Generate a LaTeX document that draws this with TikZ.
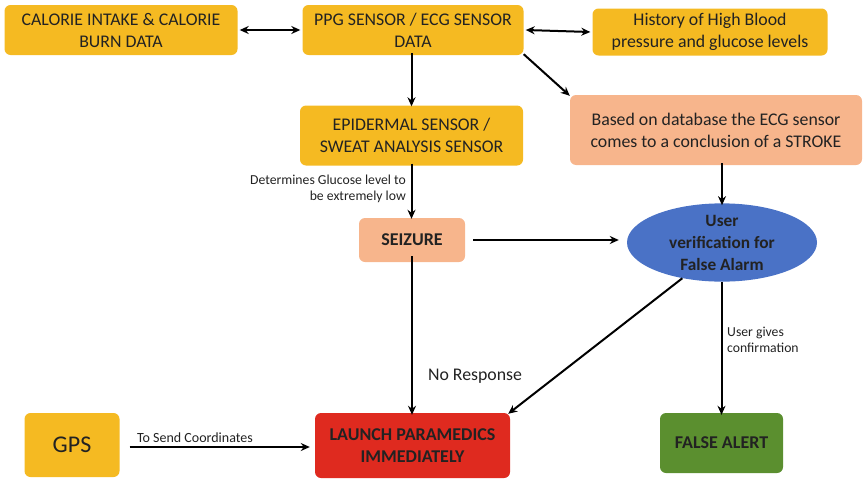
\documentclass[tikz,border=0pt]{standalone}
\usepackage{fontspec}
\setmainfont{Carlito}
\usetikzlibrary{arrows.meta,shapes.geometric}
\definecolor{gold}{HTML}{F5BA22}
\definecolor{peach}{HTML}{F7B58C}
\definecolor{alarmred}{HTML}{DF2A1F}
\definecolor{okgreen}{HTML}{5B8F2F}
\definecolor{ovalblue}{HTML}{4A72C6}
\definecolor{ink}{HTML}{222222}
\tikzset{
  box/.style={draw=none, rounded corners=6pt, align=center, text=ink,
    font=\fontsize{17.8}{22}\selectfont, inner sep=0pt},
  boldbox/.style={box, font=\fontsize{18}{22}\selectfont\bfseries},
  flow/.style={line width=2pt, draw=black, -{Stealth[length=9pt,width=8pt]}},
  biflow/.style={line width=2pt, draw=black, {Stealth[length=9pt,width=8pt]}-{Stealth[length=9pt,width=8pt]}},
  note/.style={text=ink, font=\fontsize{13.7}{16.5}\selectfont, inner sep=0pt},
}
\begin{document}
\begin{tikzpicture}[x=1pt,y=-1pt]
\useasboundingbox (0,0) rectangle (864,479);
% top row
\node[box, fill=gold, minimum width=233pt, minimum height=50pt] (cal) at (121,30)
  {CALORIE INTAKE \& CALORIE\\BURN DATA};
\node[box, fill=gold, minimum width=221pt, minimum height=50pt] (ppg) at (413,30)
  {PPG SENSOR / ECG SENSOR\\DATA};
\node[box, fill=gold, minimum width=235pt, minimum height=47pt] (hist) at (710,32)
  {History of High Blood\\pressure and glucose levels};
% second row
\node[box, fill=gold, minimum width=223pt, minimum height=60pt] (epi) at (411.5,135.5)
  {EPIDERMAL SENSOR /\\SWEAT ANALYSIS SENSOR};
\node[box, fill=peach, minimum width=292pt, minimum height=70pt] (stroke) at (716,130)
  {Based on database the ECG sensor\\comes to a conclusion of a STROKE};
% third row
\node[boldbox, fill=peach, minimum width=106pt, minimum height=44pt] (seiz) at (412,240) {SEIZURE};
\node[ellipse, fill=ovalblue, minimum width=190pt, minimum height=70pt, inner sep=0pt,
  align=center, text=ink, font=\fontsize{17.3}{22}\selectfont\bfseries] (user) at (722,242.5)
  {User\\verification for\\False Alarm};
% bottom row
\node[box, fill=gold, minimum width=95pt, minimum height=64pt,
  font=\fontsize{24}{28}\selectfont] (gps) at (72,445) {GPS};
\node[boldbox, fill=alarmred, minimum width=195pt, minimum height=65pt] (launch) at (412.5,445.5)
  {LAUNCH PARAMEDICS\\IMMEDIATELY};
\node[boldbox, fill=okgreen, minimum width=123pt, minimum height=60pt] (false) at (721.5,443)
  {FALSE ALERT};
\coordinate (gpsrow) at (0,447);
% connectors
\draw[biflow] ([xshift=2pt]cal.east) -- ([xshift=-2pt]ppg.west);
\draw[biflow] ([xshift=2pt]ppg.east) -- ([xshift=-2pt]hist.west);
\draw[flow] ([yshift=2pt]ppg.south -| epi.north) -- ([yshift=-1pt]epi.north);
\draw[flow] ([yshift=1pt]ppg.south east) -- ([yshift=-1pt]stroke.north west);
\draw[flow] ([yshift=2pt]epi.south) -- ([yshift=-1pt]seiz.north -| epi.south);
\draw[flow] ([xshift=8pt]seiz.east) -- ([xshift=-8pt]user.west |- seiz.east);
\draw[flow] ([yshift=2pt]stroke.south -| user.north) -- ([yshift=-2pt]user.north);
\draw[flow] ([yshift=6pt]seiz.south) -- ([yshift=-2pt]launch.north -| seiz.south);
\draw[flow] (user.222) -- ([xshift=-2pt,yshift=-1pt]launch.north east);
\draw[flow] (user.south -| false.north) -- ([yshift=-2pt]false.north);
\draw[flow] ([xshift=10pt]gps.east |- gpsrow) -- ([xshift=-5pt]launch.west |- gpsrow);
% labels
\node[note, align=right, anchor=east] (lowlbl) at (406,189)
  {Determines Glucose level to\\be extremely low};
\node[note, align=left, anchor=west] (conflbl) at (727,340)
  {User gives\\confirmation};
\node[note, font=\fontsize{14}{16}\selectfont, anchor=south] (gpslbl) at (195,443) {To Send Coordinates};
\node[text=ink, font=\fontsize{17.8}{20}\selectfont, inner sep=0pt] (norsp) at (475,376) {No Response};
\end{tikzpicture}
\end{document}
